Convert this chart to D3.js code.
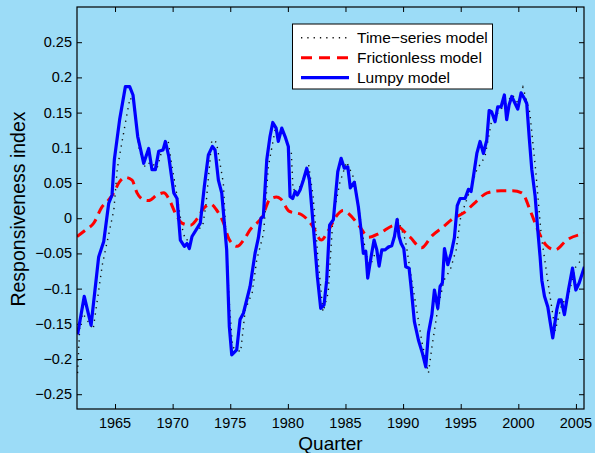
<!DOCTYPE html>
<html lang="en">
<head>
<meta charset="utf-8">
<title>Responsiveness index</title>
<script src="https://d3js.org/d3.v7.min.js"></script>
<style>
  body { margin: 0; background: #9cdcf7; }
  svg { display: block; font-family: "Liberation Sans", Arial, sans-serif; }
</style>
</head>
<body>
<div id="chart"></div>
<script>
// lumpy model (blue) at the vertices
var lumpyYear = [1961.75,1962.33,1962.92,1963.58,1964.02,1964.45,1964.74,1964.94,1965.40,1965.90,
  1966.27,1966.56,1966.97,1967.49,1967.92,1968.21,1968.50,1968.79,1969.17,1969.37,
  1969.66,1970.10,1970.38,1970.67,1971.02,1971.25,1971.45,1971.68,1972.40,1972.75,
  1973.10,1973.45,1973.68,1973.97,1974.26,1974.69,1974.92,1975.13,1975.56,1975.85,
  1976.14,1976.72,1977.15,1977.44,1977.67,1977.87,1978.17,1978.45,1978.69,1978.98,
  1979.17,1979.47,1979.76,1980.04,1980.19,1980.42,1980.63,1980.82,1981.06,1981.34,
  1981.64,1981.87,1982.21,1982.56,1982.85,1983.14,1983.37,1983.62,1983.95,1984.16,
  1984.33,1984.62,1984.90,1985.20,1985.42,1985.77,1986.12,1986.35,1986.55,1986.76,
  1986.93,1987.22,1987.48,1987.72,1987.92,1988.15,1988.44,1988.72,1989.02,1989.25,
  1989.48,1989.65,1989.83,1990.06,1990.23,1990.52,1990.69,1990.98,1991.33,1991.68,
  1991.97,1992.20,1992.50,1992.72,1993.01,1993.21,1993.41,1993.59,1993.88,1994.17,
  1994.45,1994.70,1994.95,1995.38,1995.67,1995.90,1996.10,1996.40,1996.68,1996.97,
  1997.26,1997.47,1997.69,1997.98,1998.21,1998.50,1998.79,1998.99,1999.20,1999.43,
  1999.72,1999.95,2000.24,2000.53,2000.73,2000.94,2001.17,2001.46,2001.69,2001.89,
  2002.04,2002.27,2002.56,2002.76,2002.99,2003.34,2003.54,2003.72,2004.00,2004.35,
  2004.70,2004.99,2005.28,2005.74];
var lumpyValue = [-0.165,-0.111,-0.152,-0.055,-0.033,0.021,0.033,0.083,0.140,0.187,
  0.187,0.175,0.116,0.078,0.099,0.069,0.069,0.095,0.097,0.109,
  0.088,0.036,0.028,-0.031,-0.040,-0.036,-0.043,-0.026,-0.007,0.045,
  0.090,0.102,0.097,0.054,0.036,-0.045,-0.154,-0.194,-0.187,-0.144,
  -0.135,-0.097,-0.050,-0.028,0.000,0.002,0.083,0.116,0.136,0.128,
  0.109,0.128,0.116,0.102,0.031,0.028,0.038,0.033,0.040,0.054,
  0.071,0.054,-0.012,-0.083,-0.128,-0.123,-0.088,-0.010,-0.002,0.036,
  0.066,0.085,0.071,0.073,0.043,0.051,0.016,-0.017,-0.050,-0.047,
  -0.085,-0.055,-0.031,-0.045,-0.068,-0.045,-0.045,-0.041,-0.039,-0.026,
  -0.002,-0.026,-0.036,-0.043,-0.069,-0.071,-0.097,-0.147,-0.173,-0.192,
  -0.211,-0.163,-0.137,-0.102,-0.128,-0.097,-0.092,-0.043,-0.066,-0.050,
  -0.028,0.018,0.028,0.028,0.041,0.038,0.059,0.092,0.109,0.092,
  0.111,0.153,0.151,0.137,0.158,0.158,0.175,0.140,0.161,0.173,
  0.163,0.155,0.178,0.170,0.163,0.116,0.069,0.031,-0.017,-0.055,
  -0.088,-0.111,-0.126,-0.147,-0.170,-0.130,-0.116,-0.116,-0.137,-0.102,
  -0.071,-0.102,-0.092,-0.069];

// frictionless model (red dashed)
var fricYear = [1961.7,1962.42,1963.15,1963.87,1964.45,1964.89,1965.32,1965.9,1966.48,1966.91,
  1967.49,1967.92,1968.65,1969.23,1969.66,1970.24,1970.82,1971.54,1972.12,1972.7,
  1973.3,1973.8,1974.4,1974.9,1975.6,1976.2,1976.7,1977.8,1978.45,1979.0,
  1979.4,1980.1,1981.2,1982.1,1982.9,1983.5,1984.3,1984.8,1985.3,1986.2,
  1987.0,1988.0,1989.3,1990.6,1991.6,1992.5,1993.5,1994.3,1995.3,1996.3,
  1997.3,1998.5,1999.5,2000.3,2001.1,2001.7,2002.4,2003.2,2004.2,2005.75];
var fricValue = [-0.026,-0.017,-0.007,0.016,0.026,0.036,0.050,0.058,0.054,0.036,
  0.026,0.025,0.033,0.036,0.028,0.007,-0.007,-0.010,-0.001,0.014,
  0.020,0.012,-0.006,-0.030,-0.040,-0.030,-0.017,0.003,0.027,0.030,
  0.027,0.010,0.005,-0.010,-0.031,-0.018,0.005,0.011,0.006,-0.011,
  -0.027,-0.021,-0.010,-0.027,-0.042,-0.025,-0.012,-0.001,0.008,0.023,
  0.036,0.039,0.039,0.036,0.008,-0.017,-0.038,-0.045,-0.031,-0.022];

// time-series model (black dotted)
var tsYear = [1961.75,1961.95,1962.2,1963.1,1963.9,1964.4,1964.9,1965.2,1965.95,1966.3,
  1966.6,1967.1,1967.6,1968.1,1968.65,1969.1,1969.6,1969.95,1970.4,1970.8,
  1971.1,1971.6,1972.0,1972.6,1972.9,1973.4,1973.8,1974.4,1974.9,1975.2,
  1975.9,1976.3,1976.9,1977.3,1977.9,1978.3,1978.9,1979.2,1979.7,1980.3,
  1980.45,1981.1,1981.8,1982.2,1982.6,1983.05,1983.5,1983.9,1984.5,1985.1,
  1985.8,1986.5,1987.05,1987.7,1988.4,1989.0,1989.55,1990.2,1990.7,1991.65,
  1992.2,1992.5,1993.0,1993.55,1994.1,1994.6,1995.0,1995.6,1996.4,1997.1,
  1997.7,1998.2,1998.9,1999.5,2000.0,2000.4,2001.0,2001.5,2002.0,2002.7,
  2003.2,2003.8,2004.25,2004.95,2005.6];
var tsValue = [-0.22,-0.15,-0.135,-0.158,-0.066,-0.027,0.012,0.071,0.140,0.171,
  0.165,0.097,0.073,0.080,0.071,0.098,0.111,0.073,0.030,-0.012,
  -0.031,-0.030,-0.017,-0.012,0.020,0.111,0.108,0.050,-0.116,-0.183,
  -0.190,-0.130,-0.106,-0.059,-0.021,0.073,0.126,0.122,0.118,0.093,
  0.040,0.045,0.076,0.030,-0.055,-0.133,-0.106,-0.002,0.050,0.080,
  0.054,-0.025,-0.071,-0.045,-0.046,-0.040,-0.002,-0.031,-0.083,-0.177,
  -0.220,-0.183,-0.130,-0.088,-0.073,-0.045,0.002,0.030,0.069,0.087,
  0.140,0.149,0.163,0.175,0.163,0.186,0.150,0.069,-0.026,-0.105,
  -0.160,-0.120,-0.116,-0.070,-0.056];

var xTicks = [1965,1970,1975,1980,1985,1990,1995,2000,2005];
var yTicks = [-0.25,-0.2,-0.15,-0.1,-0.05,0,0.05,0.1,0.15,0.2,0.25];
var legendNames = ["Time\u2212series model", "Frictionless model", "Lumpy model"];

var w = 595, h = 453;
var boxL = 77, boxR = 584, boxT = 7, boxB = 409;

var svg = d3.select("#chart").append("svg")
  .attr("width", w).attr("height", h);

var x = d3.scaleLinear().domain([1961.7, 2005.7]).range([boxL, boxR]);
var y = d3.scaleLinear().domain([-0.271, 0.3]).range([boxB, boxT]);

svg.append("defs").append("clipPath").attr("id", "clip")
  .append("rect").attr("x", boxL).attr("y", boxT)
  .attr("width", boxR - boxL).attr("height", boxB - boxT);

function fmt(v) {
  var s = d3.format("~g")(Math.round(v * 100) / 100);
  return s.replace("-", "\u2212");
}

// axes, MATLAB style: ticks pointing inward, box all round
var tickLen = 5;
svg.append("g").attr("transform", "translate(0," + boxB + ")")
  .call(d3.axisTop(x).tickValues(xTicks).tickSize(tickLen).tickFormat(""));
svg.append("g").attr("transform", "translate(0," + boxT + ")")
  .call(d3.axisBottom(x).tickValues(xTicks).tickSize(tickLen).tickFormat(""));
svg.append("g").attr("transform", "translate(" + boxL + ",0)")
  .call(d3.axisRight(y).tickValues(yTicks).tickSize(tickLen).tickFormat(""));
svg.append("g").attr("transform", "translate(" + boxR + ",0)")
  .call(d3.axisLeft(y).tickValues(yTicks).tickSize(tickLen).tickFormat(""));
svg.selectAll(".domain").remove();
svg.selectAll(".tick line").attr("stroke", "#000").attr("stroke-width", 1);

svg.append("g").selectAll("text").data(xTicks).enter().append("text")
  .attr("x", function(d) { return x(d); })
  .attr("y", 428)
  .attr("text-anchor", "middle")
  .attr("font-size", 14.5)
  .text(function(d) { return d; });

svg.append("g").selectAll("text").data(yTicks).enter().append("text")
  .attr("x", 72)
  .attr("y", function(d) { return y(d) + 5; })
  .attr("text-anchor", "end")
  .attr("font-size", 14.5)
  .text(fmt);

svg.append("text")
  .attr("x", (boxL + boxR) / 2).attr("y", 450)
  .attr("text-anchor", "middle").attr("font-size", 19)
  .text("Quarter");

svg.append("text")
  .attr("transform", "translate(25,209) rotate(-90)")
  .attr("text-anchor", "middle").attr("font-size", 19.5)
  .text("Responsiveness index");

// series
var lines = svg.append("g").attr("clip-path", "url(#clip)");

var lin = d3.line().x(function(d) { return x(d[0]); }).y(function(d) { return y(d[1]); });
var smooth = d3.line().curve(d3.curveMonotoneX)
  .x(function(d) { return x(d[0]); }).y(function(d) { return y(d[1]); });

lines.append("path")
  .datum(d3.zip(tsYear, tsValue))
  .attr("d", lin)
  .attr("fill", "none").attr("stroke", "#111")
  .attr("stroke-width", 1.4).attr("stroke-dasharray", "1.3,5");

lines.append("path")
  .datum(d3.zip(fricYear, fricValue))
  .attr("d", smooth)
  .attr("fill", "none").attr("stroke", "#ff0000")
  .attr("stroke-width", 3).attr("stroke-dasharray", "10,6");

lines.append("path")
  .datum(d3.zip(lumpyYear, lumpyValue))
  .attr("d", lin)
  .attr("fill", "none").attr("stroke", "#0000ff")
  .attr("stroke-width", 3.2).attr("stroke-linejoin", "round");

svg.append("rect")
  .attr("x", boxL).attr("y", boxT)
  .attr("width", boxR - boxL).attr("height", boxB - boxT)
  .attr("fill", "none").attr("stroke", "#000").attr("stroke-width", 1.2);

// legend
var lg = svg.append("g");
lg.append("rect").attr("x", 292.5).attr("y", 24).attr("width", 200).attr("height", 65)
  .attr("fill", "#fff").attr("stroke", "#000").attr("stroke-width", 1);
var styles = [
  {stroke: "#111", width: 1.4, dash: "1.3,5"},
  {stroke: "#ff0000", width: 3, dash: "11,7"},
  {stroke: "#0000ff", width: 3.2, dash: null}
];
legendNames.forEach(function(name, i) {
  var yy = 37.7 + i * 20;
  lg.append("line").attr("x1", 301).attr("x2", 349).attr("y1", yy).attr("y2", yy)
    .attr("stroke", styles[i].stroke).attr("stroke-width", styles[i].width)
    .attr("stroke-dasharray", styles[i].dash);
  lg.append("text").attr("x", 357).attr("y", yy + 5.2)
    .attr("font-size", 15.5).text(name);
});
</script>
</body>
</html>
